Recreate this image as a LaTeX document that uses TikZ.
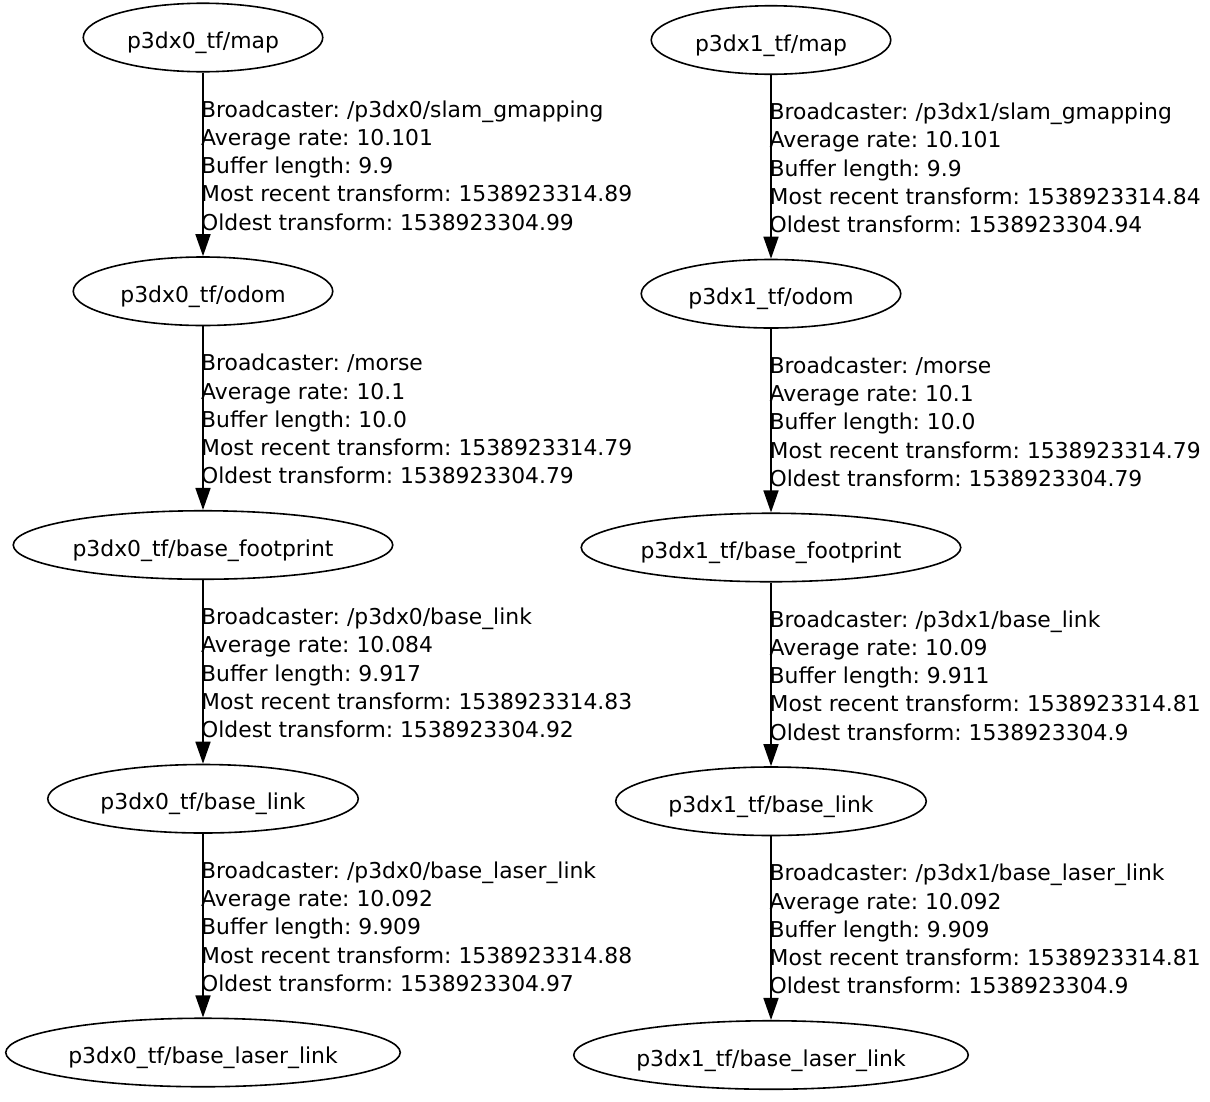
\documentclass[tikz,border=0pt]{standalone}
\usepackage{fontspec}
\setmainfont{DejaVu Sans}
\usetikzlibrary{arrows.meta,shapes.geometric}
\newcommand\tfinfo[5]{Broadcaster: #1\\Average rate: #2\\Buffer length: #3\\Most recent transform: #4\\Oldest transform: #5}
\frenchspacing
\begin{document}
\begin{tikzpicture}[x=1pt,y=-1pt,
  frame/.style={ellipse, draw, line width=1.6pt, inner sep=0pt, minimum height=68.5pt,
    font=\fontsize{21.9}{28.3}\selectfont\frenchspacing, text height=24pt, text depth=2pt},
  info/.style={anchor=base west, inner sep=0pt, align=left,
    font=\fontsize{21.85}{28.3}\selectfont\frenchspacing},
  tfedge/.style={line width=1.6pt, -{Triangle[length=22pt,width=15pt]}}]
\useasboundingbox (0,0) rectangle (1210,1101);
% left tree
\node[frame, minimum width=239.5pt] (a0) at (203,37.5) {p3dx0\_tf/map};
\node[frame, minimum width=259.5pt] (a1) at (203,291.25) {p3dx0\_tf/odom};
\node[frame, minimum width=379.5pt] (a2) at (203,545) {p3dx0\_tf/base\_footprint};
\node[frame, minimum width=310.5pt] (a3) at (203,798.75) {p3dx0\_tf/base\_link};
\node[frame, minimum width=394.5pt] (a4) at (203,1052.5) {p3dx0\_tf/base\_laser\_link};
\draw[tfedge] (a0.south) -- (a1.north);
\draw[tfedge] (a1.south) -- (a2.north);
\draw[tfedge] (a2.south) -- (a3.north);
\draw[tfedge] (a3.south) -- (a4.north);
\node[info] (ia0) at (201,230.2) {\tfinfo{/p3dx0/slam\_gmapping}{10.101}{9.9}{1538923314.89}{1538923304.99}};
\node[info] (ia1) at (201,483.95) {\tfinfo{/morse}{10.1}{10.0}{1538923314.79}{1538923304.79}};
\node[info] (ia2) at (201,737.7) {\tfinfo{/p3dx0/base\_link}{10.084}{9.917}{1538923314.83}{1538923304.92}};
\node[info] (ia3) at (201,991.45) {\tfinfo{/p3dx0/base\_laser\_link}{10.092}{9.909}{1538923314.88}{1538923304.97}};
% right tree
\node[frame, minimum width=239.5pt] (b0) at (771,40) {p3dx1\_tf/map};
\node[frame, minimum width=259.5pt] (b1) at (771,293.75) {p3dx1\_tf/odom};
\node[frame, minimum width=379.5pt] (b2) at (771,547.5) {p3dx1\_tf/base\_footprint};
\node[frame, minimum width=310.5pt] (b3) at (771,801.25) {p3dx1\_tf/base\_link};
\node[frame, minimum width=394.5pt] (b4) at (771,1055) {p3dx1\_tf/base\_laser\_link};
\draw[tfedge] (b0.south) -- (b1.north);
\draw[tfedge] (b1.south) -- (b2.north);
\draw[tfedge] (b2.south) -- (b3.north);
\draw[tfedge] (b3.south) -- (b4.north);
\node[info] (ib0) at (769.5,232.7) {\tfinfo{/p3dx1/slam\_gmapping}{10.101}{9.9}{1538923314.84}{1538923304.94}};
\node[info] (ib1) at (769.5,486.45) {\tfinfo{/morse}{10.1}{10.0}{1538923314.79}{1538923304.79}};
\node[info] (ib2) at (769.5,740.2) {\tfinfo{/p3dx1/base\_link}{10.09}{9.911}{1538923314.81}{1538923304.9}};
\node[info] (ib3) at (769.5,993.95) {\tfinfo{/p3dx1/base\_laser\_link}{10.092}{9.909}{1538923314.81}{1538923304.9}};
\end{tikzpicture}
\end{document}
